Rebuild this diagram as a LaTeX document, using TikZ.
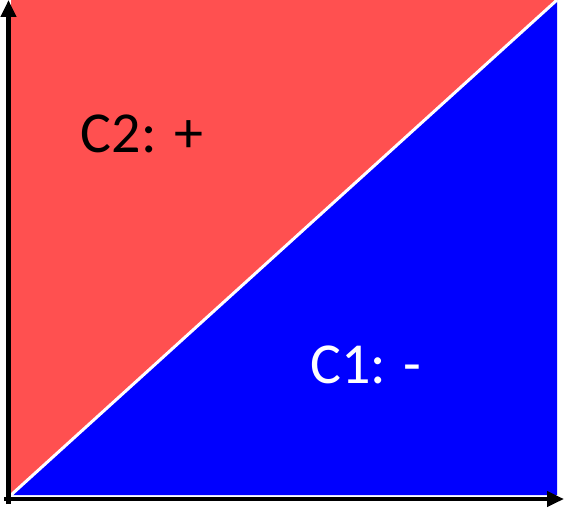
\documentclass[tikz,border=0pt]{standalone}
\usepackage{fontspec}
\setmainfont{Carlito}
\usepackage{xcolor}
\usepackage{tikz}
\usetikzlibrary{arrows.meta}

\definecolor{regionred}{RGB}{255,80,80}
\definecolor{regionblue}{RGB}{0,0,255}

\begin{document}
\begin{tikzpicture}[
  x=1pt, y=1pt,
  label/.style={font=\fontsize{58}{58}\selectfont, inner sep=0pt},
  axis/.style={draw=black, line width=4.5pt, -{Triangle[length=17pt, width=15pt]}}
]
  \useasboundingbox (0,0) rectangle (564,509);
  \coordinate (bl) at (11,14);
  \coordinate (tl) at (11,509);
  \coordinate (tr) at (557,509);
  \coordinate (br) at (557,14);
  % the two classes
  \fill [regionred] (bl) -- (tl) -- (tr) -- cycle;
  \fill [regionblue] (bl) -- (tr) -- (br) -- cycle;
  \draw [white, line width=3pt] (bl) -- (tr);
  \node [label] (c2) at (142,375) {C2: +};
  \node [label, text=white] (c1) at (366,144) {C1: -};
  % axes
  \coordinate (o) at (8.5,5);
  \draw [axis] (o) -- (8.5,509);
  \draw [axis] (4,10) -- (564,10);
\end{tikzpicture}
\end{document}
